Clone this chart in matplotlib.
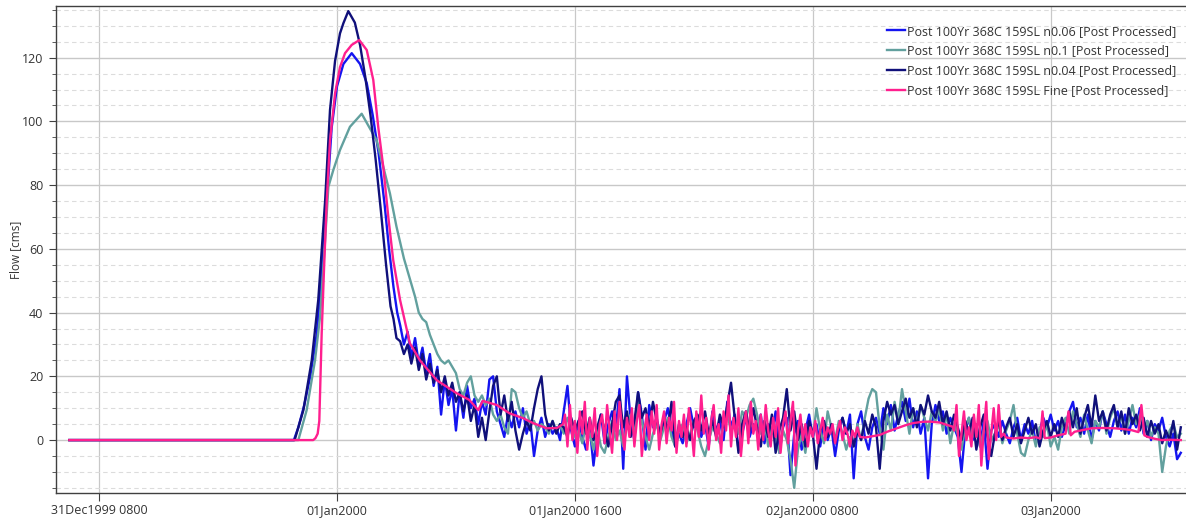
import matplotlib
matplotlib.use("Agg")
import matplotlib.pyplot as plt
import numpy as np
from matplotlib.ticker import MultipleLocator, FixedLocator

plt.rcParams["font.family"] = ["Open Sans", "DejaVu Sans"]

# hours relative to 01Jan2000 00:00
tick_hours = [-16, 0, 16, 32, 48]
tick_labels = ["31Dec1999 0800", "01Jan2000", "01Jan2000 1600", "02Jan2000 0800", "03Jan2000"]

names = ["Post 100Yr 368C 159SL n0.06 [Post Processed]",
         "Post 100Yr 368C 159SL n0.1 [Post Processed]",
         "Post 100Yr 368C 159SL n0.04 [Post Processed]",
         "Post 100Yr 368C 159SL Fine [Post Processed]"]
colors = ["#1414f0", "#62a09e", "#10107a", "#ff1f8e"]

# ---- n0.06 ----
blue_rise_h = [-18, -2.9, -2.6, -2.2, -1.8, -1.37, -1.03, -0.69, -0.36, 0.0, 0.43, 0.99,
               1.55, 2.0, 2.4, 2.8, 3.2, 3.5, 3.8, 4.05]
blue_rise_q = [0, 0, 4, 11, 20, 33, 52, 75, 98, 111, 118, 121.4,
               118, 112, 102, 90, 74, 60, 48, 40]
# 15 min samples from 4.25 h
blue_tail = [36, 30, 34, 26, 32, 24, 29, 21, 27, 17, 23, 8, 19, 11, 16, 3,
             15, 7, 17, 10, 13, 5, 12, 8, 19, 20, 9, 5, 1, 8, 4, 9,
             4, 10, 2, 6, -5, 3, 7, 1, 5, 2, 4, 0, 9, 17, 3, -2,
             6, 1, -3, 4, -8, 2, 8, -1, 5, 9, 3, 16, -9, 20, 6, 0,
             15, 8, -3, 11, 4, 7, 1, 6, 10, 3, -2, 2, -1, 5, 10, 4,
             7, 1, 5, -2, 9, 3, 6, 0, 12, 4, 8, -3, 2, 7, 1, 5,
             3, 8, -1, 5, 2, 9, -4, 4, 7, -11, 2, 6, -3, 3, 8, 1,
             5, -2, 6, 0, 4, -5, 3, 7, 2, 8, -12, 5, 9, 1, -3, 4,
             7, 2, 10, 5, 11, 3, 8, 12, 6, 13, 4, 9, 2, 7, -12, 5,
             11, 6, 9, 2, 7, 4, 1, -10, 3, 7, 0, 5, -2, 6, -9, 3,
             5, 1, 6, 2, -1, 4, 7, 0, 5, 2, 6, -1, 3, 7, 4, 8,
             3, 6, 1, 5, 9, 12, 4, 7, 2, 8, 0, 6, 3, 9, 5, 1,
             6, 9, 3, 8, 2, 7, 4, 10, 2, 6, 0, 5, 3, 7, 1, -2,
             2, -6, -4]

# ---- n0.1 ----
teal_rise_h = [-18, -2.6, -2.04, -1.48, -1.14, -0.8, -0.58, -0.25, 0.2, 0.87, 1.66,
               2.67, 3.56, 4.0]
teal_rise_q = [0, 0, 9.4, 25, 38.7, 62.8, 79.5, 84.7, 91, 98.3, 102.4,
               94, 77.4, 67]
teal_tail = [62, 57, 53, 49, 45, 40, 38, 37, 33, 30, 27, 25, 24, 25, 23, 21,
             16, 14, 18, 20, 14, 12, 14, 11, 13, 8, 6, 8, 4, 2, 16, 15,
             10, 7, 9, 5, 6, 3, 5, 4, 2, 6, 3, 5, 2, 7, 4, 1,
             3, -1, 5, 2, -3, 4, -2, -4, 1, 6, 0, 3, -2, 5, 8, 2,
             12, 6, 1, -3, 2, 5, 0, 4, 7, 1, -2, 3, 5, -1, 2, 6,
             3, -2, -5, 0, 4, 2, -1, 5, 8, 3, 6, 2, 9, 7, 11, 13,
             8, 2, 6, -2, 4, 1, -4, 3, 0, -6, -15, -3, 2, -4, 5, 1,
             10, 3, -1, 9, 4, 0, 6, 2, -3, 1, -2, 5, 0, 7, 13, 16,
             15, 4, -3, 8, 3, 12, 6, 16, 9, 2, 10, 5, 11, 7, 3, 9,
             6, 10, 3, 8, -1, 5, 2, -3, 4, 7, 1, 5, -2, 3, 6, 0,
             2, 5, -1, 3, 6, 11, 2, -4, -5, 0, 3, -2, 4, 1, 5, -2,
             1, -3, 4, 7, 2, 9, 5, 1, 8, 3, -1, 6, 4, 9, 2, 7,
             10, 4, 8, 2, 6, 11, 5, 8, 3, 6, 1, 4, 2, -10, -2, 3,
             5, 1, 2]

# ---- n0.04 ----
navy_rise_h = [-18, -2.85, -2.26, -1.7, -1.26, -0.8, -0.47, -0.13, 0.2, 0.43, 0.76,
               1.2, 1.55, 1.9, 2.25, 2.6, 2.95, 3.3, 3.6, 3.8, 4.0]
navy_rise_q = [0, 0, 9.4, 25, 44, 75, 103.6, 119, 127.6, 130.8, 134.6,
               131, 124, 114, 102, 88, 72, 55, 42, 38, 32]
navy_tail = [31, 27, 30, 24, 29, 22, 27, 19, 24, 18, 22, 15, 20, 14, 18, 12,
             15, 9, 14, 6, 11, 1, 7, 0, 9, 17, 20, 8, 14, 6, 12, 3,
             -3, 2, 6, 3, 10, 16, 20, 8, 3, 6, 2, 5, 4, 1, 7, 3,
             6, 9, 2, 7, 0, 4, 8, 3, -2, 5, 12, 14, 4, 9, 1, 6,
             15, 7, 10, 4, 12, 6, 2, 7, 3, 12, -2, 5, 1, 4, 0, 6,
             8, 3, 9, 2, 6, 1, 8, 4, 11, 18, 7, -4, 5, 9, 3, 10,
             4, -2, 6, 1, 8, -4, 3, 7, 16, 3, 9, 0, 5, -2, 6, 2,
             -9, 3, 6, 1, 5, -1, 4, 7, 2, 5, -2, 3, 0, 6, 2, 8,
             4, -9, 6, 12, 8, 11, 5, 9, 13, 7, 10, 4, 11, 8, 14, 9,
             7, 12, 5, 9, 3, 8, 4, 0, 6, 2, 7, -3, 4, 8, 1, -5,
             2, 6, 0, 4, 7, 1, 5, -1, 3, 7, 2, 5, -2, 3, 6, 1,
             5, 1, 7, 3, 9, 4, 10, 2, 7, 11, 4, 14, 6, 9, 3, 8,
             11, 4, 9, 2, 10, 5, 8, 3, 7, 1, 6, 2, 5, -1, 3, 0,
             6, -3, 4]

# ---- Fine ----
pink_a_h = [-18, -1.6, -1.45, -1.3, -1.19, -1.03, -0.87, -0.69, -0.47, -0.13, 0.2, 0.54,
            0.99, 1.5, 2.0, 2.44, 2.78, 3.11, 3.45, 3.78, 4.24, 4.9, 5.58, 6.7, 8.05,
            8.9, 9.2, 9.5, 9.8, 10.75, 11.6, 12.5, 13.2, 14.1, 14.8, 15.2]
pink_a_q = [0, 0, 0.6, 2, 6, 33.5, 54, 75, 94, 108.8, 117, 121.4,
            124, 125.5, 122.4, 113, 98, 85.8, 70, 56.5, 44, 30.4, 25, 18.8, 14.7,
            12.6, 11, 9.4, 12.3, 11, 8.4, 6.9, 5.3, 3.7, 3.8, 5]
# 10 min samples from 15.333 h
pink_b = [8, -2, 11, 0, 6, -4, 9, 2, 12, -3, 7, 1,
          10, -5, 5, 8, -1, 11, 3, -4, 9, 0, 12, 4,
          -3, 7, 1, 10, -2, 6, 11, -5, 3, 8, 0, 9,
          2, 11, -3, 5, 9, -1, 7, 3, 12, -4, 6, 1,
          8, -2, 10, 4, -5, 9, 1, 14, 2, 7, -3, 6,
          11, 0, 5, -4, 9, 3, 14, -2, 7, 1, 10, -5,
          4, 9, -1, 12, 2, 6, -3, 8, 0, 11, 3, -2,
          7, 1, 10, -4, 5, 9, -1, 6, 12, -8, 3, 8,
          0, 5, -2, 4, 1, 6, -1, 3, 7, 0, 4, 2,
          5, -1, 3, 6, 0, 4, 2, -2, 3, 1, 4, 1]
pink_c_h = [35.5, 36.0, 36.5, 37.0, 37.65, 38.2, 38.72, 39.3, 39.87, 40.54, 41.0, 41.4]
pink_c_q = [0.8, 1.2, 1.6, 2.6, 3.7, 4.6, 5.3, 5.7, 5.8, 5.5, 4.8, 4.2]
# 10 min samples from 41.5 h
pink_d = [3, 11, -5, 2, 9, 0, 4, -2, 8, 1, 11, -8, 3, 12, -6, 2, 10, 0, 11, 1, 2]
pink_e_h = [45.0, 45.5, 46.0, 46.5, 47.0, 47.3, 47.45, 47.6, 48.0, 48.5, 49.0, 49.2, 49.35,
            49.6, 50.2, 50.76, 51.5, 52.3, 53.0, 53.45, 53.9, 54.1, 54.3, 54.52, 55.0,
            55.46, 56.0, 56.75]
pink_e_q = [0.8, 0.5, 0.8, 0.6, 0.9, 0.5, 9, 0.6, 0.8, 1.5, 2.0, 9, 1.5,
            2.6, 3.2, 3.7, 3.8, 3.7, 3.4, 3.1, 2.5, 11, 1.5, 1.0, 0.4,
            0, 0.1, 0]


def tail_hours(start, step, vals):
    return start + step * np.arange(len(vals))


blue_h = np.concatenate([blue_rise_h, tail_hours(4.25, 0.25, blue_tail)])
blue_q = np.concatenate([blue_rise_q, blue_tail])
teal_h = np.concatenate([teal_rise_h, tail_hours(4.25, 0.25, teal_tail)])
teal_q = np.concatenate([teal_rise_q, teal_tail])
navy_h = np.concatenate([navy_rise_h, tail_hours(4.25, 0.25, navy_tail)])
navy_q = np.concatenate([navy_rise_q, navy_tail])
pink_h = np.concatenate([pink_a_h, tail_hours(15 + 1 / 3, 1 / 6, pink_b), pink_c_h,
                         tail_hours(41.5, 1 / 6, pink_d), pink_e_h])
pink_q = np.concatenate([pink_a_q, pink_b, pink_c_q, pink_d, pink_e_q])

fig = plt.figure(figsize=(11.86, 5.24), dpi=100)
ax = fig.add_axes([0.0472, 0.0592, 0.9528, 0.9293])

for h, q, c, n in zip([blue_h, teal_h, navy_h, pink_h], [blue_q, teal_q, navy_q, pink_q],
                      colors, names):
    ax.plot(h, q, color=c, lw=1.7, label=n)

ax.set_xlim(-18.9, 57.1)
ax.set_ylim(-16.6, 136.2)
ax.xaxis.set_major_locator(FixedLocator(tick_hours))
ax.set_xticklabels(tick_labels)
ax.yaxis.set_major_locator(MultipleLocator(20))
ax.yaxis.set_minor_locator(MultipleLocator(5))

ax.grid(which="major", axis="y", color="#c8c8c8", lw=1.0)
ax.grid(which="minor", axis="y", color="#dcdcdc", ls=(0, (4, 3)), lw=0.8)
ax.grid(which="major", axis="x", color="#c8c8c8", lw=0.9)
ax.set_axisbelow(True)

for s in ["left", "bottom", "top"]:
    ax.spines[s].set_color("#404040")
    ax.spines[s].set_linewidth(1.0)
ax.spines["right"].set_visible(False)

ax.tick_params(axis="both", which="major", labelsize=9, colors="#404040", labelcolor="#333333")
ax.tick_params(axis="x", length=6, pad=2)
ax.tick_params(axis="y", which="major", length=5, pad=4)
ax.tick_params(axis="y", which="minor", length=3, color="#404040")

ax.set_ylabel("Flow [cms]", fontsize=8.5, color="#333333")
ax.yaxis.set_label_coords(-0.03, 0.5)

leg = ax.legend(loc="upper right", bbox_to_anchor=(0.996, 0.972), frameon=False, fontsize=9,
                handlelength=1.4, handletextpad=0.2, labelspacing=0.55, borderaxespad=0)
for t in leg.get_texts():
    t.set_color("#333333")

fig.savefig("out.png", dpi=100)
